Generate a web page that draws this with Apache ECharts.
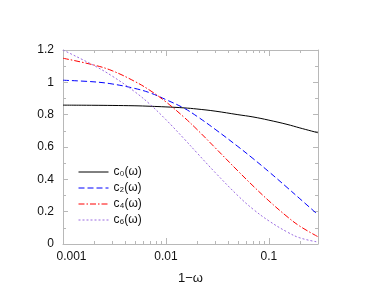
<!DOCTYPE html>
<html><head><meta charset="utf-8">
<script src="https://cdn.jsdelivr.net/npm/echarts@6/dist/echarts.min.js"></script>
<style>html,body{margin:0;padding:0;background:#fff}#c{width:381px;height:294px}</style>
</head><body><div id="c"></div>
<script>
const xs = [0.001,0.002,0.003,0.005,0.007,0.01,0.015,0.02,0.03,0.05,0.07,0.1,0.15,0.2,0.3];
const c0 = [0.859,0.858,0.857,0.855,0.852,0.848,0.842,0.835,0.822,0.800,0.786,0.766,0.740,0.718,0.688];
const c2 = [1.013,1.003,0.990,0.962,0.935,0.893,0.840,0.790,0.710,0.603,0.529,0.447,0.350,0.280,0.181];
const c4 = [1.149,1.107,1.072,1.005,0.950,0.879,0.784,0.709,0.596,0.452,0.360,0.267,0.170,0.110,0.045];
const c6 = [1.200,1.104,1.039,0.941,0.864,0.769,0.651,0.564,0.443,0.299,0.216,0.143,0.075,0.038,0.012];
const seriesNames = ['c\u2080(\u03c9)','c\u2082(\u03c9)','c\u2084(\u03c9)','c\u2086(\u03c9)'];
const xMajorTicks = [0.001,0.01,0.1];
const xMinorTicks = [0.002,0.003,0.004,0.005,0.006,0.007,0.008,0.009,0.02,0.03,0.04,0.05,0.06,0.07,0.08,0.09,0.2,0.3];
const xTickLabels = ['0.001','0.01','0.1'];

const FONT = 'Liberation Sans, Arial, sans-serif';
const GRAY = '#b8b8b8';
const colors = ['#000000','#0000ff','#ff0000','#9a6be0'];
const dashes = ['solid',[6,3],[6,2,1.5,2],[2,2]];

function pts(arr){ return xs.map((x,i)=>[x,arr[i]]); }
const allData = [c0,c2,c4,c6];

function xAx(pos, ticks, len, labels, line){
  return {
    type:'log', logBase:10, min:0.001, max:0.3, position:pos, gridIndex:0,
    axisLine:{show:line, onZero:false, lineStyle:{color:GRAY,width:1}},
    axisTick:{show:true, inside:true, length:len, customValues:ticks, lineStyle:{color:GRAY}},
    axisLabel:labels ? {
      show:true, customValues:xMajorTicks, margin:7, color:'#111', fontFamily:FONT, fontSize:12,
      formatter:function(v){ const i = xMajorTicks.findIndex(t=>Math.abs(t-v)/t<1e-6); const s = i>=0?xTickLabels[i]:''; return i===0?'{f|'+s+'}':s; },
      rich:{f:{padding:[0,0,0,17],fontFamily:FONT,fontSize:12,color:'#111'}}
    } : {show:false},
    splitLine:{show:false}, minorTick:{show:false}
  };
}
function yAx(pos, labels){
  return {
    type:'value', min:0, max:1.2, interval:0.2, position:pos, gridIndex:0,
    axisLine:{show:true, onZero:false, lineStyle:{color:GRAY,width:1}},
    axisTick:{show:true, inside:true, length:5, lineStyle:{color:GRAY}},
    minorTick:{show:true, splitNumber:2, length:3, lineStyle:{color:GRAY}},
    axisLabel:labels ? {show:true, margin:9, color:'#111', fontFamily:FONT, fontSize:12,
      formatter:function(v){ return String(+v.toFixed(1)); }} : {show:false},
    splitLine:{show:false}
  };
}
const xAxes = [xAx('bottom', xMajorTicks, 6, true, true), xAx('bottom', xMinorTicks, 3, false, false),
               xAx('top', xMajorTicks, 6, false, true), xAx('top', xMinorTicks, 3, false, false)];
xAxes[0].name = '1\u2212\u03c9';
xAxes[0].nameLocation = 'middle';
xAxes[0].nameGap = 28;
xAxes[0].nameTextStyle = {fontFamily:FONT, fontSize:13, color:'#111'};

const chart = echarts.init(document.getElementById('c'), null, {renderer:'canvas'});
chart.setOption({
  animation:false,
  backgroundColor:'#fff',
  grid:{left:63, right:63, top:50, bottom:50, containLabel:false},
  legend:{
    show:true, orient:'vertical', left:73, top:161, itemWidth:30, itemHeight:12, itemGap:4,
    itemStyle:{opacity:0},
    lineStyle:{width:1, type:'inherit', color:'inherit'},
    textStyle:{fontFamily:FONT, fontSize:12, color:'#111'},
    data:seriesNames
  },
  xAxis:xAxes,
  yAxis:[yAx('left',true), yAx('right',false)],
  series:allData.map((d,i)=>({
    name:seriesNames[i], type:'line', xAxisIndex:0, yAxisIndex:0,
    data:pts(d), smooth:0.4, symbol:'none', showSymbol:false,
    lineStyle:{color:colors[i], width:1, type:dashes[i]},
    itemStyle:{color:colors[i]}
  }))
});
</script></body></html>
